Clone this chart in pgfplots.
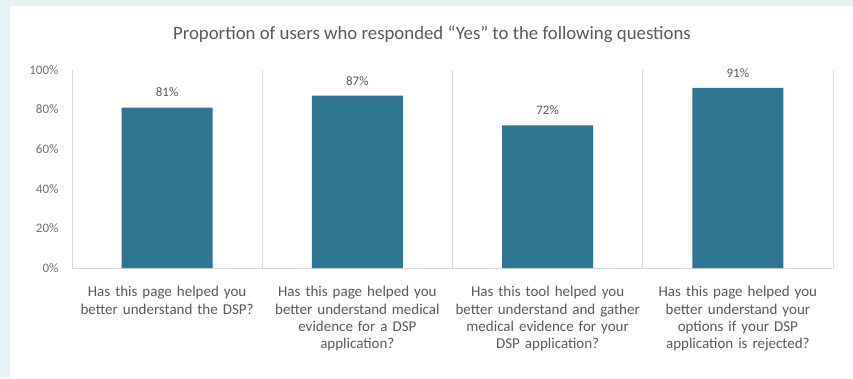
\documentclass[border=0pt]{standalone}
\usepackage{pgfplots}
\pgfplotsset{compat=1.18}
\usepackage{fontspec}
\setmainfont{Carlito}
\definecolor{bgcyan}{HTML}{E6F3F5}
\definecolor{barblue}{HTML}{2E7694}
\definecolor{txtgray}{HTML}{595959}
\definecolor{sepgray}{HTML}{D9D9D9}
\begin{document}
\begin{tikzpicture}
\fill[bgcyan] (0pt,0pt) rectangle (853pt,378pt);
\fill[white] (10pt,0pt) rectangle (853pt,372pt);
\path[use as bounding box] (0pt,0pt) rectangle (853pt,378pt);
\node[text=txtgray, font=\fontsize{18.8}{22}\selectfont] at (432pt,344pt) {Proportion of users who responded “Yes” to the following questions};
\begin{axis}[
  at={(72pt,110pt)}, anchor=south west,
  scale only axis, width=761pt, height=198pt,
  xmin=-0.5, xmax=3.5, ymin=0, ymax=100,
  xtick={0,1,2,3},
  xticklabels={
    {Has this page helped you\\better understand the DSP?},
    {Has this page helped you\\better understand medical\\evidence for a DSP\\application?},
    {Has this tool helped you\\better understand and gather\\medical evidence for your\\DSP application?},
    {Has this page helped you\\better understand your\\options if your DSP\\application is rejected?}},
  xticklabel style={text width=190pt, align=center, font=\fontsize{15}{17.3}\selectfont, text=txtgray, yshift=-15pt},
  ytick={0,20,40,60,80,100},
  yticklabels={0\%,20\%,40\%,60\%,80\%,100\%},
  yticklabel style={font=\fontsize{13}{15}\selectfont, text=txtgray!85, xshift=-10pt},
  major tick length=0pt,
  extra x ticks={-0.5,0.5,1.5,2.5,3.5},
  extra x tick labels={},
  extra x tick style={grid=major, major grid style={sepgray, line width=0.8pt}},
  axis x line*=bottom,
  axis y line*=left,
  x axis line style={sepgray, line width=0.8pt, -},
  y axis line style={draw=none},
  /pgf/number format/assume math mode=true,
  clip=false,
]
\addplot[ybar, bar width=91pt, fill=barblue, draw=none,
  nodes near coords={\pgfmathprintnumber{\pgfplotspointmeta}\%},
  nodes near coords style={font=\fontsize{13}{15}\selectfont, text=txtgray, yshift=7pt}]
  coordinates {(0,81) (1,87) (2,72) (3,91)};
\end{axis}
\end{tikzpicture}
\end{document}
